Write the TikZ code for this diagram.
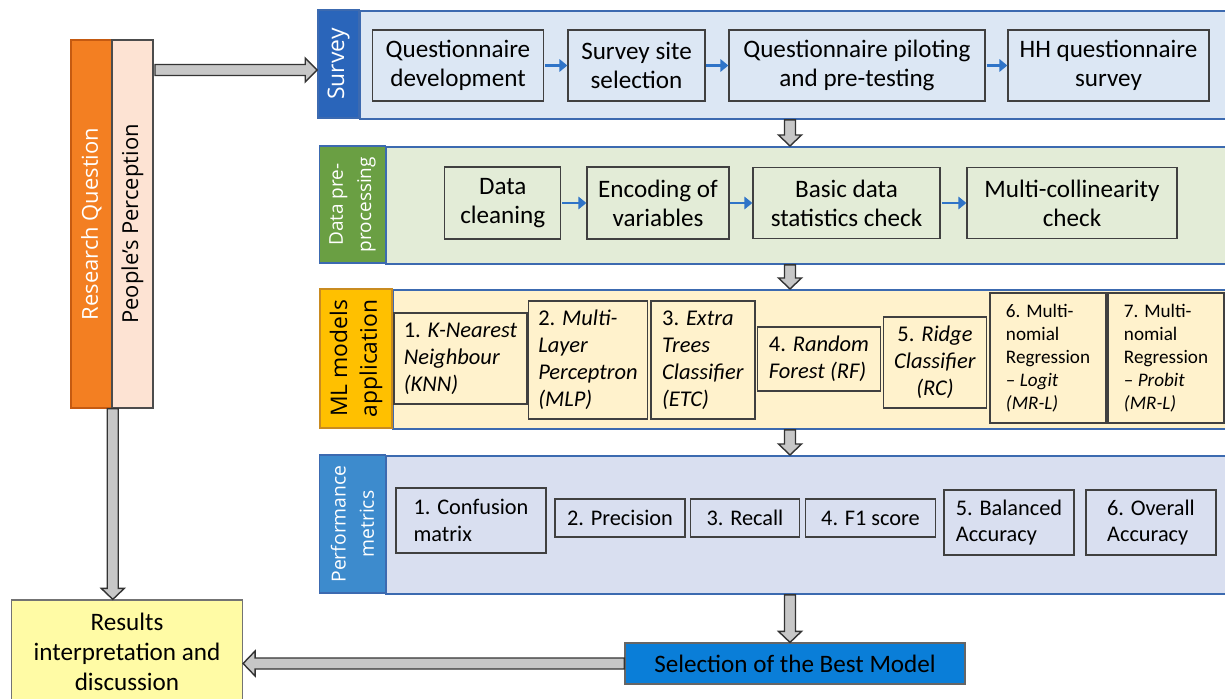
\documentclass[tikz,border=0pt]{standalone}
\usepackage{fontspec}
\setmainfont{Carlito}
\newfontfamily\labelfont{Open Sans}
\usepackage{tikz}
\usetikzlibrary{positioning,calc,arrows.meta}

\definecolor{rqorange}{RGB}{243,127,34}
\definecolor{rqborder}{RGB}{197,90,17}
\definecolor{ppeach}{RGB}{253,227,211}
\definecolor{surveyblue}{RGB}{42,101,186}
\definecolor{surveybg}{RGB}{220,231,244}
\definecolor{prepgreen}{RGB}{106,159,67}
\definecolor{prepbg}{RGB}{227,236,215}
\definecolor{mlgold}{RGB}{255,192,0}
\definecolor{mlborder}{RGB}{201,139,32}
\definecolor{mlbg}{RGB}{255,242,204}
\definecolor{perfblue}{RGB}{61,139,205}
\definecolor{perfbg}{RGB}{217,223,240}
\definecolor{panelborder}{RGB}{60,106,176}
\definecolor{selblue}{RGB}{10,126,216}
\definecolor{resyellow}{RGB}{255,251,165}
\definecolor{arrowblue}{RGB}{47,116,200}

\newcommand{\px}{0.02cm}

\tikzset{
  panel/.style={draw=panelborder, line width=1.1pt, anchor=north west},
  sidelabel/.style={draw=panelborder, line width=0.9pt, rotate=90, align=center, inner sep=0pt,
    text=white, font=\labelfont\fontsize{13}{15}\selectfont},
  stepbox/.style={draw=black!75, line width=0.7pt, align=center, inner sep=2pt,
    font=\fontsize{14.3}{16.5}\selectfont},
  modelbox/.style={draw=black!75, line width=0.7pt, align=left, inner sep=2pt, fill=mlbg,
    font=\fontsize{12.8}{15.3}\selectfont},
  metricbox/.style={draw=black!75, line width=0.7pt, align=left, inner sep=2pt, fill=perfbg,
    font=\fontsize{12.7}{15.3}\selectfont},
  steparrow/.style={arrowblue, line width=1.7pt, -{Triangle[length=4.5pt,width=7pt]}, shorten <=0.5pt},
  fatarrow/.style={draw=black!80, fill=black!22, line width=0.8pt, line join=miter}
}

% block arrows: x (or y) of the first point, tip at the second
\newcommand{\fatdown}[2]{\draw[fatarrow] let \p1=(#1), \p2=(#2) in
  (\x1-5.5*\px,\y1) -- (\x1+5.5*\px,\y1) -- (\x1+5.5*\px,\y2+11*\px) -- (\x1+11.5*\px,\y2+11*\px)
  -- (\x1,\y2) -- (\x1-11.5*\px,\y2+11*\px) -- (\x1-5.5*\px,\y2+11*\px) -- cycle;}
\newcommand{\fatright}[2]{\draw[fatarrow] let \p1=(#1), \p2=(#2) in
  (\x1,\y1+5.5*\px) -- (\x2-12*\px,\y1+5.5*\px) -- (\x2-12*\px,\y1+12*\px) -- (\x2,\y1)
  -- (\x2-12*\px,\y1-12*\px) -- (\x2-12*\px,\y1-5.5*\px) -- (\x1,\y1-5.5*\px) -- cycle;}
\newcommand{\fatleft}[2]{\draw[fatarrow] let \p1=(#1), \p2=(#2) in
  (\x1,\y1+5.5*\px) -- (\x2+12*\px,\y1+5.5*\px) -- (\x2+12*\px,\y1+12.5*\px) -- (\x2,\y1)
  -- (\x2+12*\px,\y1-12.5*\px) -- (\x2+12*\px,\y1-5.5*\px) -- (\x1,\y1-5.5*\px) -- cycle;}

\begin{document}
\begin{tikzpicture}[x=0.02cm, y=-0.02cm]
    \useasboundingbox (0,0) rectangle (1225,699);
    \clip (0,0) rectangle (1225,699);

    % left column
    \node[sidelabel, fill=rqorange, draw=rqborder, font=\labelfont\fontsize{12.5}{15}\selectfont,
      minimum width=368*\px, minimum height=41*\px] (rq) at (91.5,224) {Research Question};
    \node[sidelabel, fill=ppeach, draw=black!70, text=black, font=\labelfont\fontsize{12.5}{15}\selectfont,
      minimum width=368*\px, minimum height=41*\px] (pp) at (132.5,224) {People’s Perception};
    \node[draw=black!55, fill=resyellow, line width=0.7pt, align=center, minimum width=231*\px, minimum height=104*\px,
      font=\fontsize{14.3}{17}\selectfont] (res) at (127,652) {Results\\interpretation and\\discussion};

    % survey
    \node[panel, fill=surveybg, minimum width=876*\px, minimum height=108*\px] (sbg) at (359,10) {};
    \node[sidelabel, fill=surveyblue, minimum width=108*\px, minimum height=41*\px] (slab) at (338.5,64) {Survey};
    \node[stepbox, fill=surveybg, minimum width=171*\px, minimum height=71*\px] (qdev) at (458,65.5) {Questionnaire\\development};
    \node[stepbox, fill=surveybg, minimum width=137*\px, minimum height=71*\px] (site) at (636.5,65.5) {Survey site\\selection};
    \node[stepbox, fill=surveybg, minimum width=256*\px, minimum height=71*\px] (pilot) at (857,65.5) {Questionnaire piloting\\and pre-testing};
    \node[stepbox, fill=surveybg, minimum width=201*\px, minimum height=71*\px] (hh) at (1108.5,65.5) {HH questionnaire\\survey};
    \draw[steparrow] (qdev.east) -- (site.west);
    \draw[steparrow] (site.east) -- (pilot.west);
    \draw[steparrow] (pilot.east) -- (hh.west);

    % data pre-processing
    \node[panel, fill=prepbg, minimum width=850*\px, minimum height=117*\px] (dbg) at (385,146) {};
    \node[sidelabel, fill=prepgreen, minimum width=117*\px, minimum height=66*\px,
      font=\labelfont\fontsize{10.8}{16}\selectfont] (dlab) at (352.5,204.5) {Data pre-\\processing};
    \node[stepbox, fill=prepbg, minimum width=116*\px, minimum height=72*\px] (clean) at (502.75,203) {Data\\cleaning};
    \node[stepbox, fill=prepbg, minimum width=142*\px, minimum height=72*\px] (encode) at (658,203) {Encoding of\\variables};
    \node[stepbox, fill=prepbg, minimum width=187*\px, minimum height=71*\px] (stats) at (846.5,203) {Basic data\\statistics check};
    \node[stepbox, fill=prepbg, minimum width=210*\px, minimum height=71*\px] (multi) at (1072,203) {Multi-collinearity\\check};
    \draw[steparrow] (clean.east) -- (encode.west);
    \draw[steparrow] (encode.east) -- (stats.west);
    \draw[steparrow] (stats.east) -- (multi.west);

    % ML models
    \node[panel, fill=mlbg, minimum width=843*\px, minimum height=139*\px] (mbg) at (392,289) {};
    \node[sidelabel, fill=mlgold, draw=mlborder, text=black, minimum width=139*\px, minimum height=72*\px,
      font=\labelfont\fontsize{13}{17}\selectfont] (mlab) at (356,358.5) {ML models\\application};
    \node[modelbox, minimum width=133*\px, minimum height=91*\px] (knn) at (460.5,358.5) {1. \textit{K-Nearest}\\\textit{Neighbour}\\\textit{(KNN)}};
    \node[modelbox, minimum width=119*\px, minimum height=118*\px] (mlp) at (588,360) {2. \textit{Multi-}\\\textit{Layer}\\\textit{Perceptron}\\\textit{(MLP)}};
    \node[modelbox, minimum width=104*\px, minimum height=118*\px] (etc) at (703,360) {3. \textit{Extra}\\\textit{Trees}\\\textit{Classifier}\\\textit{(ETC)}};
    \node[modelbox, minimum width=123*\px, minimum height=64*\px] (rf) at (819,359) {4. \textit{Random}\\\textit{Forest (RF)}};
    \node[modelbox, align=center, minimum width=103*\px, minimum height=91*\px] (rc) at (935,362.5) {5. \textit{Ridge}\\\textit{Classifier}\\\textit{(RC)}};
    \node[modelbox, font=\fontsize{10.9}{13}\selectfont, minimum width=116*\px, minimum height=130*\px] (mrl) at (1048,358) {6. Multi-\\nomial\\Regression\\– \textit{Logit}\\\textit{(MR-L)}};
    \node[modelbox, font=\fontsize{10.9}{13}\selectfont, minimum width=116*\px, minimum height=130*\px] (mrp) at (1166,358) {7. Multi-\\nomial\\Regression\\– \textit{Probit}\\\textit{(MR-L)}};

    % performance metrics
    \node[panel, fill=perfbg, minimum width=850*\px, minimum height=138*\px] (pbg) at (385,455) {};
    \node[sidelabel, fill=perfblue, minimum width=138*\px, minimum height=66*\px,
      font=\labelfont\fontsize{11}{16}\selectfont] (plab) at (352.5,524) {Performance\\metrics};
    \node[metricbox, minimum width=150*\px, minimum height=65*\px] (conf) at (471,520.5) {1. Confusion\\matrix};
    \node[metricbox, minimum width=130*\px, minimum height=38*\px] (prec) at (620,518) {2. Precision};
    \node[metricbox, minimum width=109*\px, minimum height=38*\px] (recall) at (745,518) {3. Recall};
    \node[metricbox, minimum width=130*\px, minimum height=38*\px] (fone) at (870.5,518) {4. F1 score};
    \node[metricbox, minimum width=130*\px, minimum height=65*\px] (bal) at (1009,522.5) {5. Balanced\\Accuracy};
    \node[metricbox, minimum width=130*\px, minimum height=65*\px] (overall) at (1151,522.5) {6. Overall\\Accuracy};

    % best model
    \node[draw=black!60, fill=selblue, line width=0.7pt, minimum width=340*\px, minimum height=41*\px,
      font=\fontsize{14.3}{16}\selectfont] (sel) at (795,663.5) {Selection of the Best Model};

    % block arrows
    \coordinate (ppout) at (155,70);
    \coordinate (spine) at (790,0);
    \fatright{ppout}{slab.north}
    \fatdown{sbg.south -| spine}{dbg.north}
    \fatdown{dbg.south -| spine}{mbg.north}
    \fatdown{mbg.south -| spine}{pbg.north}
    \fatdown{pbg.south -| spine}{sel.north}
    \fatleft{sel.west}{res.east}
    \fatdown{rq.south west}{res.north} % rotated node: south west is the lower right corner
\end{tikzpicture}
\end{document}
